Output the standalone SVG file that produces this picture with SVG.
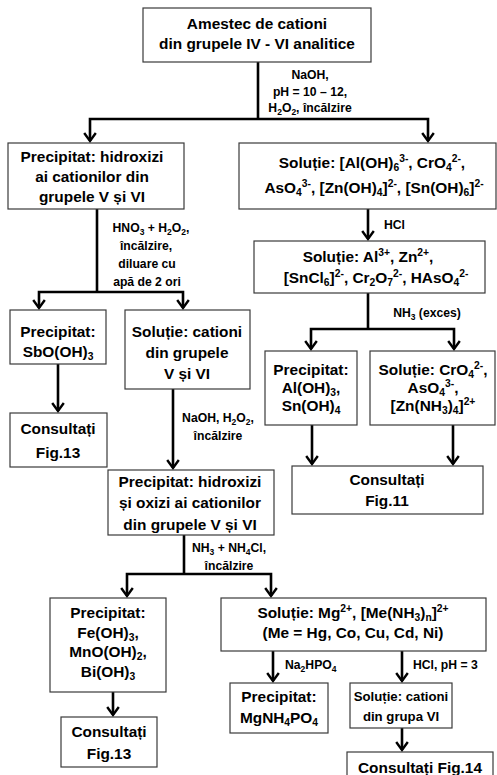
<svg xmlns="http://www.w3.org/2000/svg" width="497" height="775" viewBox="0 0 497 775">
  <defs>
    <style>
      .box { fill: #ffffff; stroke: #3a3a3a; stroke-width: 1.2; }
      .t { font-family: "Liberation Sans", Arial, sans-serif; font-weight: bold; font-size: 15.4px; text-anchor: middle; fill: #000; }
      .tsm { font-size: 13.2px; }
      .l { font-family: "Liberation Sans", Arial, sans-serif; font-weight: bold; font-size: 12.2px; fill: #000; }
      .lc { text-anchor: middle; }
      .s { font-size: 10.3px; }
      .ls { font-size: 8.5px; }
      .wire { fill: none; stroke: #000; stroke-width: 2.6; marker-end: url(#ah); }
      .wire2 { fill: none; stroke: #000; stroke-width: 2.6; marker-start: url(#ah); marker-end: url(#ah); }
      .bar { fill: none; stroke: #000; stroke-width: 2.6; }
    </style>
    <marker id="ah" viewBox="-10 -7 12 14" refX="0" refY="0" markerWidth="12" markerHeight="14" orient="auto-start-reverse" markerUnits="userSpaceOnUse">
      <path d="M-8,-5.8 L0,0 L-8,5.8" fill="none" stroke="#000" stroke-width="2.4" stroke-linejoin="miter"/>
    </marker>
  </defs>

  <rect width="497" height="775" fill="#ffffff"/>

  <!-- connectors and their reagent labels -->
  <g id="connectors">
    <path class="bar" d="M258,62 V119"/>
    <path class="wire2" d="M90,141 V119 H428 V141"/>
    <path class="wire" d="M368,209 V239"/>
    <path class="bar" d="M97,209 V292"/>
    <path class="wire2" d="M39,308 V292 H183 V308"/>
    <path class="bar" d="M368,293 V329"/>
    <path class="wire2" d="M311,349 V329 H454 V349"/>
    <path class="wire" d="M58,364 V411"/>
    <path class="wire" d="M173,389 V468"/>
    <path class="wire" d="M312,425 V464"/>
    <path class="wire" d="M453,425 V464"/>
    <path class="bar" d="M184,535 V574"/>
    <path class="wire2" d="M127,596 V574 H271 V596"/>
    <path class="wire" d="M113,692 V715"/>
    <path class="wire" d="M273,651 V681"/>
    <path class="wire" d="M402,651 V681"/>
    <path class="wire" d="M402,728 V750"/>

    <text class="l lc" x="310" y="79">NaOH,</text>
    <text class="l lc" x="310" y="96">pH = 10 – 12,</text>
    <text class="l lc" x="310" y="112">H<tspan class="ls" dy="2.5">2</tspan><tspan dy="-2.5">O</tspan><tspan class="ls" dy="2.5">2</tspan><tspan dy="-2.5">, încălzire</tspan></text>

    <text class="l lc" x="151" y="232">HNO<tspan class="ls" dy="2.5">3</tspan><tspan dy="-2.5"> + H</tspan><tspan class="ls" dy="2.5">2</tspan><tspan dy="-2.5">O</tspan><tspan class="ls" dy="2.5">2</tspan><tspan dy="-2.5">,</tspan></text>
    <text class="l lc" x="146" y="250">încălzire,</text>
    <text class="l lc" x="147" y="268">diluare cu</text>
    <text class="l lc" x="147" y="286">apă de 2 ori</text>

    <text class="l" x="384" y="229">HCl</text>
    <text class="l lc" x="427" y="317">NH<tspan class="ls" dy="2.5">3</tspan><tspan dy="-2.5"> (exces)</tspan></text>

    <text class="l lc" x="218" y="422">NaOH, H<tspan class="ls" dy="2.5">2</tspan><tspan dy="-2.5">O</tspan><tspan class="ls" dy="2.5">2</tspan><tspan dy="-2.5">,</tspan></text>
    <text class="l lc" x="218" y="440">încălzire</text>

    <text class="l lc" x="229" y="552">NH<tspan class="ls" dy="2.5">3</tspan><tspan dy="-2.5"> + NH</tspan><tspan class="ls" dy="2.5">4</tspan><tspan dy="-2.5">Cl,</tspan></text>
    <text class="l lc" x="229" y="570">încălzire</text>

    <text class="l" x="285" y="669">Na<tspan class="ls" dy="2.5">2</tspan><tspan dy="-2.5">HPO</tspan><tspan class="ls" dy="2.5">4</tspan></text>
    <text class="l" x="413" y="669">HCl, pH = 3</text>
  </g>

  <!-- start mixture -->
  <g id="n-start">
    <rect class="box" x="143" y="8" width="228" height="54"/>
    <text class="t" x="257" y="29">Amestec de cationi</text>
    <text class="t" x="257" y="49">din grupele IV - VI analitice</text>
  </g>

  <!-- first split: precipitate -->
  <g id="n-prec-v-vi">
    <rect class="box" x="8" y="143" width="176" height="66"/>
    <text class="t" x="92" y="162">Precipitat: hidroxizi</text>
    <text class="t" x="92" y="182">ai cationilor din</text>
    <text class="t" x="92" y="202">grupele V și VI</text>
  </g>

  <!-- first split: solution -->
  <g id="n-sol-anions">
    <rect class="box" x="239" y="143" width="257" height="66"/>
    <text class="t" x="372" y="168">Soluție: [Al(OH)<tspan class="s" dy="3">6</tspan><tspan class="s" dy="-9">3-</tspan><tspan dy="6">, CrO</tspan><tspan class="s" dy="3">4</tspan><tspan class="s" dy="-9">2-</tspan><tspan dy="6">,</tspan></text>
    <text class="t" x="374" y="193">AsO<tspan class="s" dy="3">4</tspan><tspan class="s" dy="-9">3-</tspan><tspan dy="6">, [Zn(OH)</tspan><tspan class="s" dy="3">4</tspan><tspan dy="-3">]</tspan><tspan class="s" dy="-6">2-</tspan><tspan dy="6">, [Sn(OH)</tspan><tspan class="s" dy="3">6</tspan><tspan dy="-3">]</tspan><tspan class="s" dy="-6">2-</tspan></text>
  </g>

  <g id="n-sol-acid">
    <rect class="box" x="254" y="241" width="231" height="52"/>
    <text class="t" x="368" y="262">Soluție: Al<tspan class="s" dy="-6">3+</tspan><tspan dy="6">, Zn</tspan><tspan class="s" dy="-6">2+</tspan><tspan dy="6">,</tspan></text>
    <text class="t" x="376" y="283">[SnCl<tspan class="s" dy="3">6</tspan><tspan dy="-3">]</tspan><tspan class="s" dy="-6">2-</tspan><tspan dy="6">, Cr</tspan><tspan class="s" dy="3">2</tspan><tspan dy="-3">O</tspan><tspan class="s" dy="3">7</tspan><tspan class="s" dy="-9">2-</tspan><tspan dy="6">, HAsO</tspan><tspan class="s" dy="3">4</tspan><tspan class="s" dy="-9">2-</tspan></text>
  </g>

  <g id="n-prec-al-sn">
    <rect class="box" x="265" y="351" width="92" height="74"/>
    <text class="t" x="311" y="375">Precipitat:</text>
    <text class="t" x="311" y="393">Al(OH)<tspan class="s" dy="3">3</tspan><tspan dy="-3">,</tspan></text>
    <text class="t" x="311" y="411">Sn(OH)<tspan class="s" dy="3">4</tspan></text>
  </g>

  <g id="n-sol-cr-as-zn">
    <rect class="box" x="370" y="351" width="125" height="74"/>
    <text class="t" x="433" y="375">Soluție: CrO<tspan class="s" dy="3">4</tspan><tspan class="s" dy="-9">2-</tspan><tspan dy="6">,</tspan></text>
    <text class="t" x="433" y="393">AsO<tspan class="s" dy="3">4</tspan><tspan class="s" dy="-9">3-</tspan><tspan dy="6">,</tspan></text>
    <text class="t" x="433" y="411">[Zn(NH<tspan class="s" dy="3">3</tspan><tspan dy="-3">)</tspan><tspan class="s" dy="3">4</tspan><tspan dy="-3">]</tspan><tspan class="s" dy="-6">2+</tspan></text>
  </g>

  <g id="n-fig11">
    <rect class="box" x="292" y="466" width="191" height="48"/>
    <text class="t" x="387" y="485">Consultați</text>
    <text class="t" x="387" y="506">Fig.11</text>
  </g>

  <!-- antimony branch -->
  <g id="n-prec-sb">
    <rect class="box" x="10" y="310" width="96" height="54"/>
    <text class="t" x="58" y="337">Precipitat:</text>
    <text class="t" x="58" y="357">SbO(OH)<tspan class="s" dy="3">3</tspan></text>
  </g>

  <g id="n-fig13a">
    <rect class="box" x="10" y="413" width="97" height="54"/>
    <text class="t" x="58" y="434">Consultați</text>
    <text class="t" x="58" y="458">Fig.13</text>
  </g>

  <g id="n-sol-v-vi">
    <rect class="box" x="125" y="310" width="125" height="79"/>
    <text class="t" x="187" y="337">Soluție: cationi</text>
    <text class="t" x="187" y="358">din grupele</text>
    <text class="t" x="187" y="379">V și VI</text>
  </g>

  <g id="n-prec-oxides">
    <rect class="box" x="108" y="470" width="166" height="65"/>
    <text class="t" x="190" y="487">Precipitat: hidroxizi</text>
    <text class="t" x="190" y="508">și oxizi ai cationilor</text>
    <text class="t" x="190" y="530">din grupele V și VI</text>
  </g>

  <g id="n-prec-fe-mn-bi">
    <rect class="box" x="50" y="598" width="116" height="94"/>
    <text class="t" x="108" y="618">Precipitat:</text>
    <text class="t" x="108" y="638">Fe(OH)<tspan class="s" dy="3">3</tspan><tspan dy="-3">,</tspan></text>
    <text class="t" x="108" y="657">MnO(OH)<tspan class="s" dy="3">2</tspan><tspan dy="-3">,</tspan></text>
    <text class="t" x="108" y="677">Bi(OH)<tspan class="s" dy="3">3</tspan></text>
  </g>

  <g id="n-fig13b">
    <rect class="box" x="61" y="717" width="96" height="50"/>
    <text class="t" x="109" y="737">Consultați</text>
    <text class="t" x="109" y="759">Fig.13</text>
  </g>

  <g id="n-sol-mg-me">
    <rect class="box" x="221" y="598" width="265" height="53"/>
    <text class="t" x="353" y="618">Soluție: Mg<tspan class="s" dy="-6">2+</tspan><tspan dy="6">, [Me(NH</tspan><tspan class="s" dy="3">3</tspan><tspan dy="-3">)</tspan><tspan class="s" dy="3">n</tspan><tspan dy="-3">]</tspan><tspan class="s" dy="-6">2+</tspan></text>
    <text class="t" x="353" y="638">(Me = Hg, Co, Cu, Cd, Ni)</text>
  </g>

  <g id="n-prec-mg">
    <rect class="box" x="230" y="683" width="98" height="50"/>
    <text class="t" x="279" y="702">Precipitat:</text>
    <text class="t" x="279" y="723">MgNH<tspan class="s" dy="3">4</tspan><tspan dy="-3">PO</tspan><tspan class="s" dy="3">4</tspan></text>
  </g>

  <g id="n-sol-vi">
    <rect class="box" x="350" y="683" width="102" height="45"/>
    <text class="t tsm" x="401" y="701">Soluție: cationi</text>
    <text class="t tsm" x="401" y="721">din grupa VI</text>
  </g>

  <g id="n-fig14">
    <rect class="box" x="347" y="752" width="146" height="30"/>
    <text class="t" x="420" y="773">Consultați Fig.14</text>
  </g>
</svg>
